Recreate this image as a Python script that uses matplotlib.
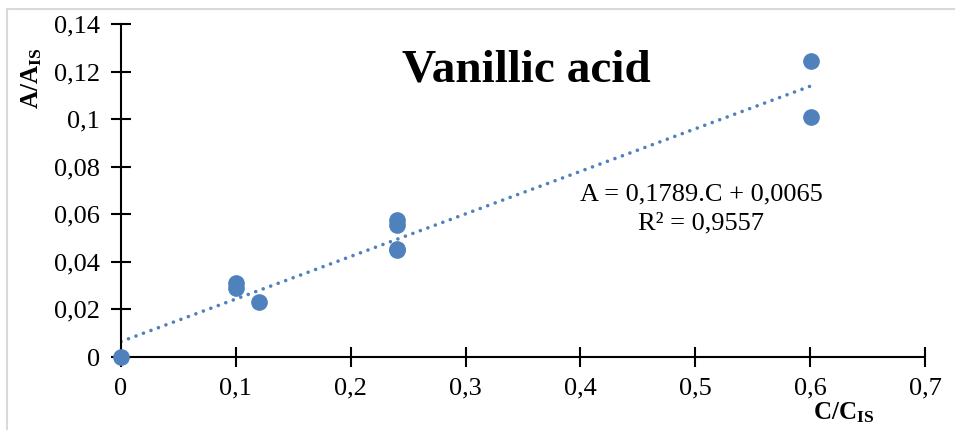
import matplotlib
matplotlib.use("Agg")
import matplotlib.pyplot as plt
from matplotlib.patches import Rectangle
import numpy as np

plt.rcParams['font.family'] = ['Liberation Serif', 'DejaVu Serif']
plt.rcParams['mathtext.fontset'] = 'custom'
plt.rcParams['mathtext.rm'] = 'Liberation Serif'
plt.rcParams['mathtext.bf'] = 'Liberation Serif:bold'
plt.rcParams['mathtext.it'] = 'Liberation Serif:italic'

# Data
c_ratio = [0.0, 0.10, 0.10, 0.12, 0.24, 0.24, 0.24, 0.24, 0.601, 0.601]
a_ratio = [0.0, 0.0311, 0.0290, 0.0233, 0.0578, 0.0553, 0.0455, 0.0450, 0.1245, 0.1010]
slope = 0.1789
intercept = 0.0065
trend_x = [0.0, 0.6]
x_ticks = [0, 0.1, 0.2, 0.3, 0.4, 0.5, 0.6, 0.7]
x_labels = ['0', '0,1', '0,2', '0,3', '0,4', '0,5', '0,6', '0,7']
y_ticks = [0, 0.02, 0.04, 0.06, 0.08, 0.10, 0.12, 0.14]
y_labels = ['0', '0,02', '0,04', '0,06', '0,08', '0,1', '0,12', '0,14']
title = 'Vanillic acid'
equation = 'A = 0,1789.C + 0,0065'
r2_text = 'R² = 0,9557'

color = '#4F81BD'
W, H = 955, 430
fig = plt.figure(figsize=(W/100, H/100), dpi=100)
ax = fig.add_axes([121/W, 1-357/H, (925-121)/W, (357-24)/H])

tx = np.array(trend_x)
ax.plot(tx, slope*tx + intercept, color=color, lw=2.6,
        linestyle=(0, (0.01, 2.2)), dash_capstyle='round', zorder=2)
ax.plot(c_ratio, a_ratio, 'o', color=color, ms=11, mec=color, clip_on=False, zorder=3)

ax.set_xlim(0, 0.7)
ax.set_ylim(0, 0.14)
ax.set_xticks(x_ticks)
ax.set_xticklabels(x_labels)
ax.set_yticks(y_ticks)
ax.set_yticklabels(y_labels)
for s in ['top', 'right']:
    ax.spines[s].set_visible(False)
for s in ['left', 'bottom']:
    ax.spines[s].set_linewidth(1.5)
ax.tick_params(direction='inout', length=14, width=1.5, labelsize=19)
ax.tick_params(axis='y', pad=8)
ax.tick_params(axis='x', pad=8)

fig.text(526/W, 1-70/H, title, fontsize=34, fontweight='bold', ha='center', va='center')
fig.text(701/W, 1-194/H, equation, fontsize=19, ha='center', va='center')
fig.text(701/W, 1-223/H, r2_text, fontsize=19, ha='center', va='center')
fig.text(32/W, 1-78/H, r'$\mathbf{A/A_{IS}}$', fontsize=18, rotation=90, ha='center', va='center')
fig.text(844/W, 1-413/H, r'$\mathbf{C/C_{IS}}$', fontsize=18, ha='center', va='center')

fig.patches.append(Rectangle((7/W, -0.1), 1.2, 1-9/H+0.1, transform=fig.transFigure,
                             fill=False, edgecolor='#d9d9d9', lw=1.5))

fig.savefig('out.png', dpi=100)
